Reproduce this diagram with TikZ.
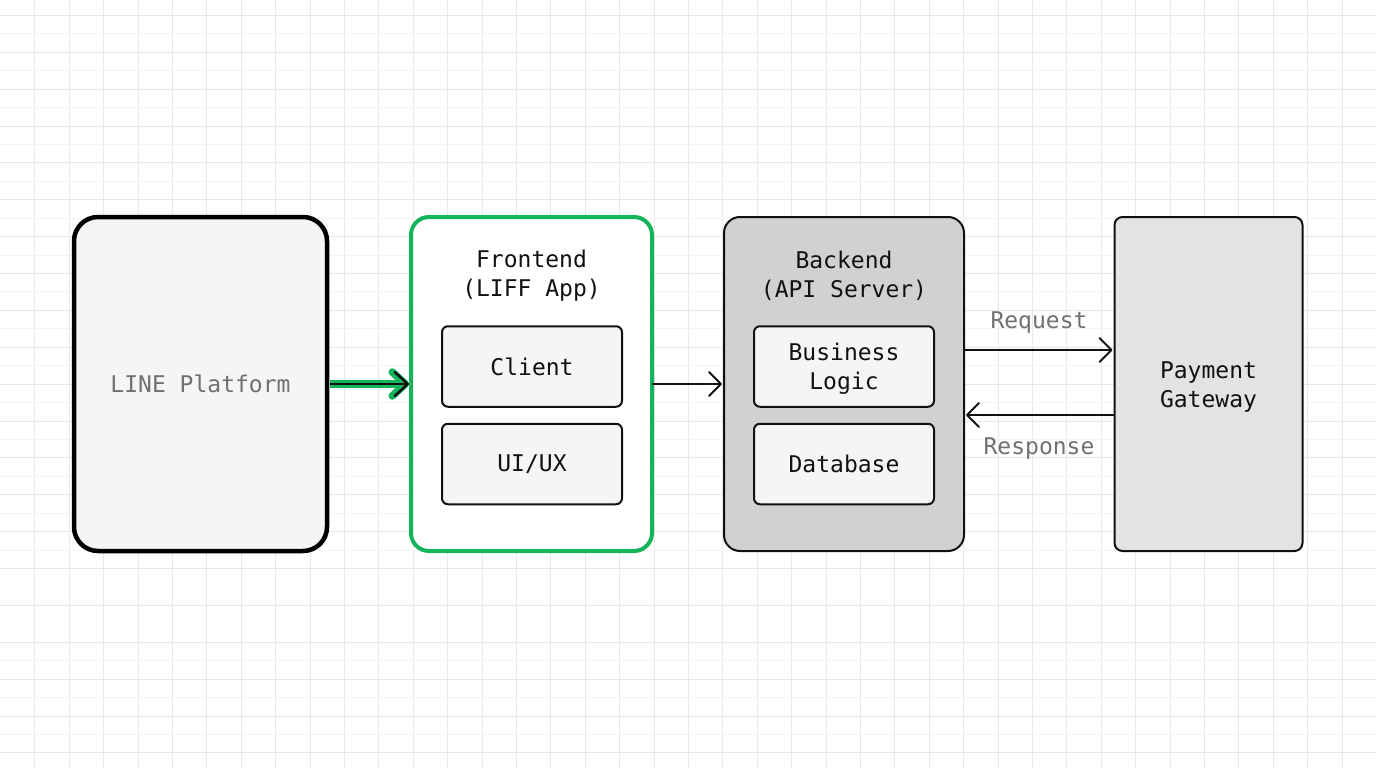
\documentclass[tikz,border=0pt]{standalone}
\usepackage{fontspec}
\setmainfont{DejaVu Sans Mono}
\usetikzlibrary{arrows.meta}
\definecolor{linegreen}{HTML}{14B45A}
\definecolor{gridc}{HTML}{E8E8E8}
\definecolor{gridf}{HTML}{F4F4F4}
\definecolor{ink}{HTML}{111111}
\definecolor{labelgray}{HTML}{707070}
\tikzset{
  x=1pt,y=-1pt,
  base/.style={rectangle,inner sep=0pt,outer sep=0pt,align=center,font=\fontsize{23}{29}\selectfont,text=ink},
  linebox/.style={base,draw=black,line width=4.5pt,fill=black!4,rounded corners=24pt,minimum width=253pt,minimum height=334pt,text=labelgray},
  frontbox/.style={base,draw=linegreen,line width=4pt,fill=white,rounded corners=18pt,minimum width=241pt,minimum height=334pt},
  backbox/.style={base,draw=ink,line width=2pt,fill=black!18,rounded corners=16pt,minimum width=240pt,minimum height=334pt},
  gatebox/.style={base,draw=ink,line width=2pt,fill=black!11,rounded corners=8pt,minimum width=188pt,minimum height=334pt},
  inner/.style={base,draw=ink,line width=2pt,fill=black!4,rounded corners=6pt,minimum width=180pt,minimum height=80.5pt},
  title/.style={base},
  flowlabel/.style={base,text=labelgray},
  tip/.style={-{Straight Barb[length=12pt,width=24pt,line width=2pt,round]}},
  arrow/.style={draw=ink,line width=2pt,tip,shorten >=2pt},
}
\begin{document}
\begin{tikzpicture}
\useasboundingbox (0,0) rectangle (1376,768);
\fill[white] (0,0) rectangle (1376,768);
\foreach \i in {1,...,39} {
  \pgfmathsetmacro{\gx}{round(34.4*\i)+0.5}
  \draw[gridc,line width=1pt] (\gx,0) -- (\gx,768);
}
\foreach \i in {0,...,20} {
  \pgfmathsetmacro{\gy}{round(15+36.87*\i)+0.5}
  \draw[gridc,line width=1pt] (0,\gy) -- (1376,\gy);
}
\foreach \i in {0,...,14,17,18,19} {
  \pgfmathsetmacro{\gy}{round(33.4+36.87*\i)+0.5}
  \draw[gridf,line width=1pt] (0,\gy) -- (1376,\gy);
}

\node[linebox] (line) at (200.5,384) {LINE Platform};
\node[frontbox] (front) at (531.5,384) {};
\node[backbox] (back) at (844,384) {};
\node[gatebox] (gate) at (1208.5,384) {};
\node[base] (gatetext) at (1208.5,387) {Payment\\Gateway};

\node[title] (fronttitle) at (531.5,276) {Frontend\\(LIFF App)};
\node[inner] (client) at (532,366.5) {Client};
\node[inner] (uiux) at (532,464) {UI/UX};

\node[title] (backtitle) at (844,276) {Backend\\(API Server)};
\node[inner] (logic) at (844,366.5) {};
\node[base] (logictext) at (844,368.5) {Business\\Logic};
\node[inner] (db) at (844,464) {Database};

\draw[linegreen,line width=8pt,-{Straight Barb[length=13pt,width=24pt,line width=7.5pt,round]},shorten >=2pt,shorten <=2.5pt] (line.east) -- (front.west);
\draw[ink,line width=2.5pt,-{Straight Barb[length=13pt,width=24pt,line width=2.5pt,round]},shorten >=2pt,shorten <=2.5pt] (line.east) -- (front.west);
\draw[arrow] (front.east) -- (back.west);
\draw[arrow] ([yshift=34pt]back.east) -- ([yshift=34pt]gate.west);
\draw[arrow] ([yshift=-31pt]gate.west) -- ([yshift=-31pt]back.east);

\node[flowlabel] (req) at (1039,322.5) {Request};
\node[flowlabel] (resp) at (1039,448.5) {Response};
\end{tikzpicture}
\end{document}
